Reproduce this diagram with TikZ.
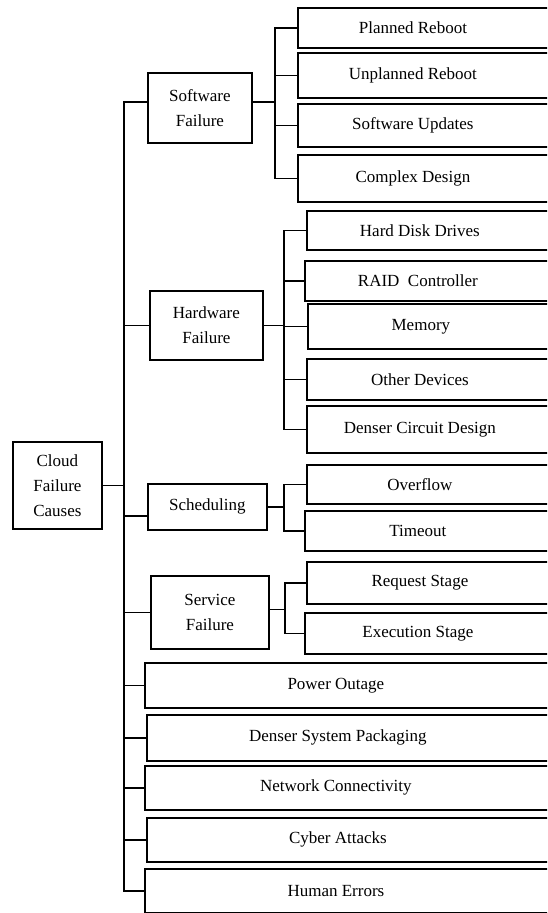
\documentclass[tikz,border=0pt]{standalone}
\usepackage{fontspec}
\setmainfont{Liberation Serif}
\tikzset{
  box/.style={draw, line width=1.8pt, rectangle, inner sep=0pt, anchor=north west,
    font=\fontsize{17}{25}\selectfont},
  midbox/.style={box, align=center},
  conn/.style={line width=1.6pt, line cap=rect},
}
\newcommand{\lblA}[1]{\makebox[230pt]{#1}\hspace*{60pt}}
\newcommand{\lblB}[1]{\makebox[226pt]{#1}\hspace*{60pt}}
\newcommand{\lblC}[1]{\makebox[382pt]{#1}\hspace*{60pt}}
\begin{document}
\begin{tikzpicture}[x=1pt,y=-1pt]
\useasboundingbox (0,0) rectangle (547,913);
\clip (0,0) rectangle (547,913);

% root and first level
\node[midbox, minimum width=89pt, minimum height=87pt] (root) at (12,441) {Cloud\\Failure\\Causes};
\node[midbox, minimum width=104pt, minimum height=70pt] (sf) at (147,72) {Software\\Failure};
\node[midbox, minimum width=113pt, minimum height=69pt] (hw) at (149,290) {Hardware\\Failure};
\node[midbox, minimum width=119pt, minimum height=46pt] (sch) at (147,483) {Scheduling};
\node[midbox, minimum width=118pt, minimum height=73pt] (sv) at (150,575) {Service\\Failure};

% software leaves
\node[box, minimum height=40pt] (pr) at (297,7) {\lblA{Planned Reboot}};
\node[box, minimum height=45pt] (ur) at (297,52) {\lblA{Unplanned Reboot}};
\node[box, minimum height=43pt] (su) at (297,103) {\lblA{Software Updates}};
\node[box, minimum height=47pt] (cd) at (297,154) {\lblA{Complex Design}};

% hardware leaves
\node[box, minimum height=39pt] (hd) at (306,210) {\lblB{Hard Disk Drives}};
\node[box, minimum height=40pt] (rc) at (304,260) {\lblB{RAID\ \ Controller}};
\node[box, minimum height=45pt] (me) at (307,303) {\lblB{Memory}};
\node[box, minimum height=41pt] (od) at (306,358) {\lblB{Other Devices}};
\node[box, minimum height=47pt] (dc) at (306,405) {\lblB{Denser Circuit Design}};

% scheduling leaves
\node[box, minimum height=39pt] (ov) at (306,464) {\lblB{Overflow}};
\node[box, minimum height=40pt] (to) at (304,510) {\lblB{Timeout}};

% service leaves
\node[box, minimum height=42pt] (rq) at (306,561) {\lblB{Request Stage}};
\node[box, minimum height=41pt] (ex) at (304,612) {\lblB{Execution Stage}};

% first-level leaves
\node[box, minimum height=45pt] (po) at (144,662) {\lblC{Power Outage}};
\node[box, minimum height=46pt] (ds) at (146,714) {\lblC{Denser System Packaging}};
\node[box, minimum height=44pt] (nc) at (144,765) {\lblC{Network Connectivity}};
\node[box, minimum height=44pt] (ca) at (146,817) {\lblC{Cyber Attacks}};
\node[box, minimum height=44pt] (he) at (144,868) {\lblC{Human Errors}};

% bus positions
\coordinate (mb) at (124,0);
\coordinate (sb) at (275,0);
\coordinate (hb) at (284,0);
\coordinate (cb) at (284,0);
\coordinate (vb) at (285,0);
\coordinate (sfw) at ([yshift=6pt]sf.west);
\coordinate (sfe) at ([yshift=6pt]sf.east);
\coordinate (schw) at ([yshift=-9pt]sch.west);
\coordinate (sve) at ([yshift=3pt]sv.east);

% main bus
\draw[conn] (root.east) -- (root.east -| mb);
\draw[conn] (sfw -| mb) -- (he.west -| mb);
\foreach \n in {sfw, hw.west, schw, sv.west, po.west, ds.west, nc.west, ca.west, he.west}
  \draw[conn] (\n -| mb) -- (\n);

% software bus
\draw[conn] (sfe) -- (sfe -| sb);
\draw[conn] (pr.west -| sb) -- (cd.west -| sb);
\foreach \n in {pr, ur, su, cd}
  \draw[conn] (\n.west -| sb) -- (\n.west);

% hardware bus
\draw[conn] (hw.east) -- (hw.east -| hb);
\draw[conn] (hd.west -| hb) -- (dc.west -| hb);
\foreach \n in {hd, rc, me, od, dc}
  \draw[conn] (\n.west -| hb) -- (\n.west);

% scheduling bus
\draw[conn] (sch.east) -- (sch.east -| cb);
\draw[conn] (ov.west -| cb) -- (to.west -| cb);
\foreach \n in {ov, to}
  \draw[conn] (\n.west -| cb) -- (\n.west);

% service bus
\draw[conn] (sve) -- (sve -| vb);
\draw[conn] (rq.west -| vb) -- (ex.west -| vb);
\foreach \n in {rq, ex}
  \draw[conn] (\n.west -| vb) -- (\n.west);
\end{tikzpicture}
\end{document}
